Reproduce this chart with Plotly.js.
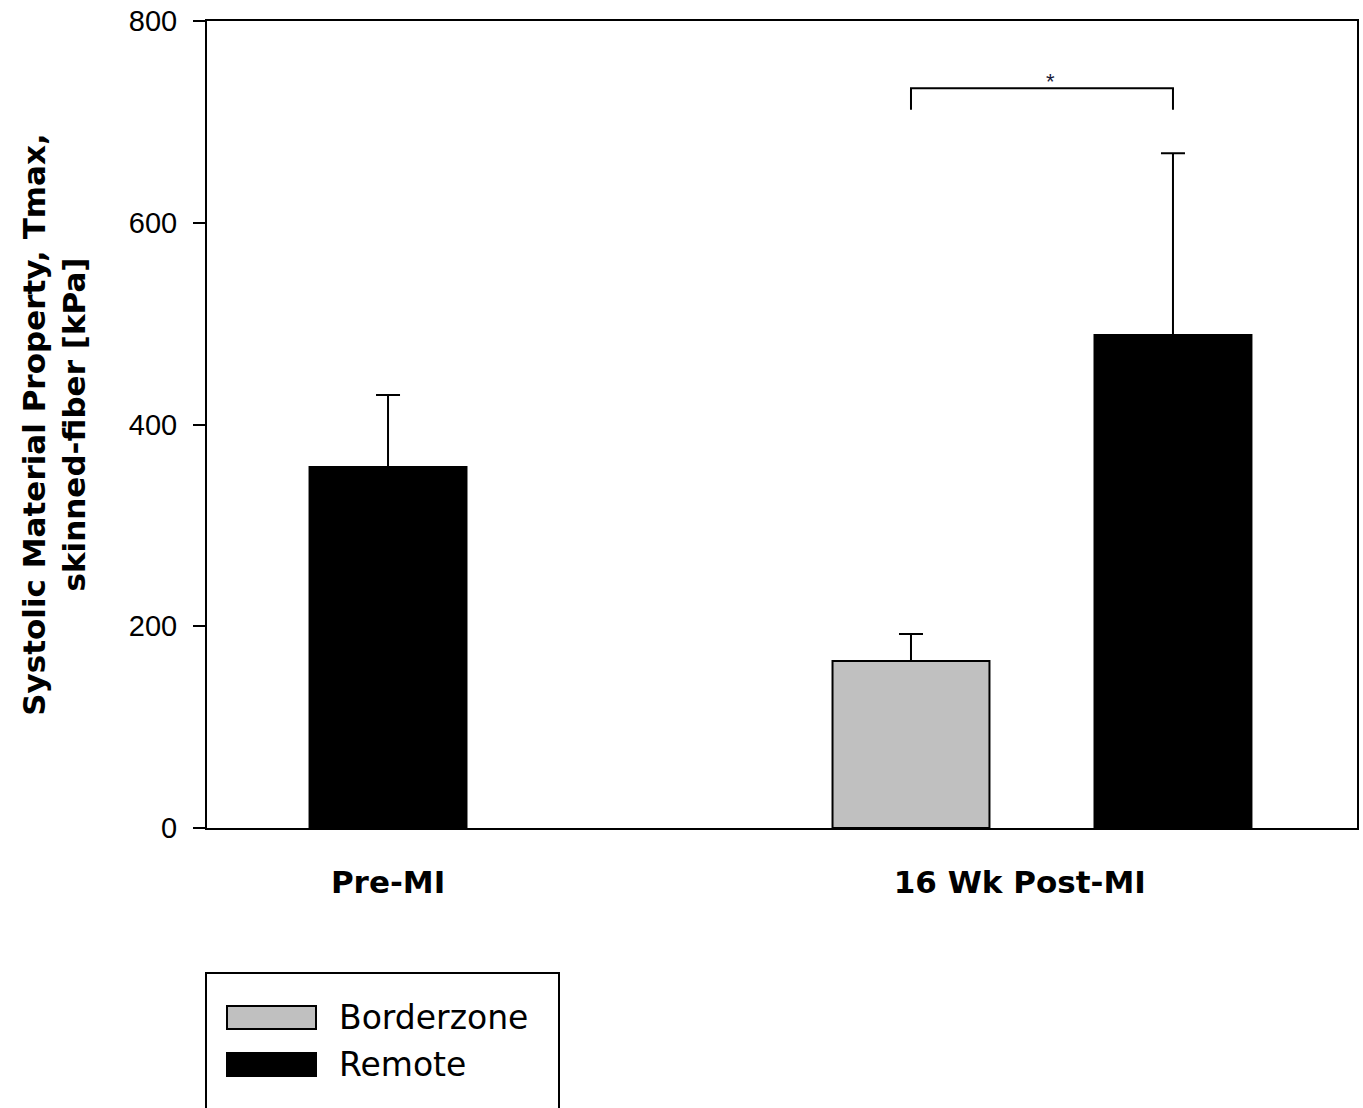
<!DOCTYPE html>
<html>
<head>
<meta charset="utf-8">
<script src="https://cdn.plot.ly/plotly-3.0.1.min.js"></script>
<style>html,body{margin:0;padding:0;background:#fff;}</style>
</head>
<body>
<div id="chart" style="width:1363px;height:1108px;"></div>
<script>
// ---- data ----
const categories = ['Pre-MI', '16 Wk Post-MI'];
const seriesNames = ['Borderzone', 'Remote'];
const borderzoneMean = [null, 165.6];
const borderzoneSEM = [null, 26.7];
const remoteMean = [357.9, 488.7];
const remoteSEM = [71.3, 180.1];
const yTicks = [0, 200, 400, 600, 800];
const significance = '*';

// ---- layout helpers ----
const colors = {Borderzone: '#c0c0c0', Remote: '#000000'};
const barWidth = 0.24;
const pairOffset = 0.2003;
const W = 1363, H = 1108;
const M = {l: 207, r: 6, t: 21, b: 280};
const plotW = W - M.l - M.r, plotH = H - M.t - M.b;
const px2x = p => (p - M.l) / plotW;          // paper x from pixel
const px2y = p => (H - M.b - p) / plotH;       // paper y from pixel

const bothPresent = categories.map((c, i) => borderzoneMean[i] != null && remoteMean[i] != null);
const bzX = categories.map((c, i) => bothPresent[i] ? i - pairOffset : i);
const rmX = categories.map((c, i) => bothPresent[i] ? i + pairOffset : i);

const traces = [
  {
    type: 'bar', name: seriesNames[0],
    x: bzX, y: borderzoneMean, width: barWidth,
    marker: {color: colors.Borderzone, line: {color: '#000', width: 2}},
    error_y: {type: 'data', symmetric: false, array: borderzoneSEM, arrayminus: borderzoneSEM.map(v => v == null ? null : 0), color: '#000', thickness: 2, width: 12},
    showlegend: false, hoverinfo: 'y'
  },
  {
    type: 'bar', name: seriesNames[1],
    x: rmX, y: remoteMean, width: barWidth,
    marker: {color: colors.Remote, line: {color: '#000', width: 2}},
    error_y: {type: 'data', symmetric: false, array: remoteSEM, arrayminus: remoteSEM.map(() => 0), color: '#000', thickness: 2, width: 12},
    showlegend: false, hoverinfo: 'y'
  }
];

// significance bracket between Borderzone and Remote in the post-MI group
const gi = 1;
const bracketTop = 733.3, bracketLegBottom = 712;
const shapes = [
  {type: 'path', xref: 'x', yref: 'y',
   path: `M ${bzX[gi]},${bracketLegBottom} L ${bzX[gi]},${bracketTop} L ${rmX[gi]},${bracketTop} L ${rmX[gi]},${bracketLegBottom}`,
   line: {color: '#000', width: 2}}
];

// custom legend (box + swatches)
const legendBox = {x0: 206, x1: 559, y0: 973, y1: 1115};
shapes.push({type: 'rect', xref: 'paper', yref: 'paper',
  x0: px2x(legendBox.x0), x1: px2x(legendBox.x1), y0: px2y(legendBox.y1), y1: px2y(legendBox.y0),
  line: {color: '#000', width: 2}, fillcolor: 'rgba(0,0,0,0)'});
const annotations = [];
const rowTops = [1006, 1053];
seriesNames.forEach((name, k) => {
  const top = rowTops[k], bot = top + 23;
  shapes.push({type: 'rect', xref: 'paper', yref: 'paper',
    x0: px2x(227), x1: px2x(316), y0: px2y(bot), y1: px2y(top),
    line: {color: '#000', width: 2}, fillcolor: colors[name]});
  annotations.push({xref: 'paper', yref: 'paper', x: px2x(337), y: px2y((top + bot) / 2),
    xanchor: 'left', yanchor: 'middle', showarrow: false, text: name,
    font: {family: 'DejaVu Sans', size: 33, color: '#000'}});
});

annotations.push({xref: 'x', yref: 'y', x: (bzX[gi] + rmX[gi]) / 2, y: bracketTop,
  xanchor: 'center', yanchor: 'bottom', showarrow: false, text: significance, xshift: 9, yshift: -8,
  font: {family: 'Liberation Sans', size: 22, color: '#1a1a3a'}});

const layout = {
  width: W, height: H,
  margin: M,
  paper_bgcolor: '#fff', plot_bgcolor: '#fff',
  showlegend: false,
  barmode: 'overlay',
  xaxis: {
    range: [-0.2768, 1.4817],
    tickvals: [0, 0.966], ticktext: categories,
    ticks: '', showgrid: false, zeroline: false,
    showline: true, linecolor: '#000', linewidth: 2, mirror: true,
    tickfont: {family: 'DejaVu Sans', size: 31, color: '#000', weight: 'bold'},
    ticklabelstandoff: 26
  },
  yaxis: {
    range: [0, 800], tickvals: yTicks,
    ticks: 'outside', ticklen: 12, tickwidth: 2, tickcolor: '#000',
    showgrid: false, zeroline: false,
    showline: true, linecolor: '#000', linewidth: 2, mirror: true,
    tickfont: {family: 'Liberation Sans', size: 29, color: '#000'},
    ticklabelstandoff: 10,
    title: {text: 'Systolic Material Property, Tmax,<br>skinned-fiber [kPa]',
      font: {family: 'DejaVu Sans', size: 31, color: '#000', weight: 'bold'}, standoff: 34}
  },
  shapes: shapes,
  annotations: annotations
};

Plotly.newPlot('chart', traces, layout, {staticPlot: true, displayModeBar: false});
</script>
</body>
</html>
